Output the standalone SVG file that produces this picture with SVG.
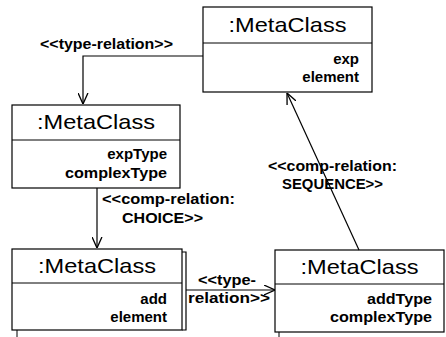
<svg xmlns="http://www.w3.org/2000/svg" width="446" height="337" viewBox="0 0 446 337">
  <style>
    .box { fill: #fff; stroke: #000; stroke-width: 1.2; }
    .sep { stroke: #000; stroke-width: 1; }
    .title { font-family: "Liberation Sans", Arial, sans-serif; font-size: 21px; fill: #000; text-anchor: middle; }
    .attr { font-family: "Liberation Sans", Arial, sans-serif; font-size: 15px; font-weight: bold; fill: #000; text-anchor: end; }
    .lbl { font-family: "Liberation Sans", Arial, sans-serif; font-size: 15px; font-weight: bold; fill: #000; }
    .edge { fill: none; stroke: #000; stroke-width: 1.2; }
  </style>
  <defs>
    <marker id="open" viewBox="0 0 10 10" refX="10" refY="5" markerUnits="userSpaceOnUse" markerWidth="11" markerHeight="11" orient="auto">
      <path d="M0,0.5 L10,5 L0,9.5" fill="none" stroke="#000" stroke-width="1.2"/>
    </marker>
  </defs>
  <rect width="446" height="337" fill="#fff"/>

  <!-- exp / element -->
  <g id="metaclass-exp">
    <rect class="box" x="203" y="7" width="169" height="85"/>
    <line class="sep" x1="203" y1="43" x2="372" y2="43"/>
    <text class="title" x="287.5" y="32" textLength="118" lengthAdjust="spacingAndGlyphs">:MetaClass</text>
    <text class="attr" x="359" y="64">exp</text>
    <text class="attr" x="359" y="82">element</text>
  </g>

  <!-- expType / complexType -->
  <g id="metaclass-exptype">
    <rect class="box" x="12" y="105" width="168" height="83"/>
    <line class="sep" x1="12" y1="140" x2="180" y2="140"/>
    <text class="title" x="96" y="129" textLength="118" lengthAdjust="spacingAndGlyphs">:MetaClass</text>
    <text class="attr" x="167" y="159">expType</text>
    <text class="attr" x="167" y="178" textLength="102" lengthAdjust="spacingAndGlyphs">complexType</text>
  </g>

  <!-- add / element -->
  <g id="metaclass-add">
    <polyline class="edge" points="182,252 186,252 186,330 182,330"/>
    <rect class="box" x="12" y="249" width="170" height="81"/>
    <line class="sep" x1="12" y1="283" x2="182" y2="283"/>
    <line class="sep" x1="17" y1="330" x2="17" y2="337"/>
    <text class="title" x="97" y="273" textLength="118" lengthAdjust="spacingAndGlyphs">:MetaClass</text>
    <text class="attr" x="167" y="304">add</text>
    <text class="attr" x="167" y="322">element</text>
  </g>

  <!-- addType / complexType -->
  <g id="metaclass-addtype">
    <rect class="box" x="275" y="250" width="169" height="82"/>
    <line class="sep" x1="275" y1="284" x2="444" y2="284"/>
    <line class="sep" x1="279" y1="332" x2="279" y2="337"/>
    <text class="title" x="359.5" y="274" textLength="118" lengthAdjust="spacingAndGlyphs">:MetaClass</text>
    <text class="attr" x="432" y="304" textLength="65" lengthAdjust="spacingAndGlyphs">addType</text>
    <text class="attr" x="432" y="322" textLength="102" lengthAdjust="spacingAndGlyphs">complexType</text>
  </g>

  <!-- relations -->
  <g id="connectors">
    <polyline class="edge" points="203,56 83,56 83,104" marker-end="url(#open)"/>
    <line class="edge" x1="97" y1="188" x2="97" y2="248" marker-end="url(#open)"/>
    <line class="edge" x1="359" y1="250" x2="287" y2="93" marker-end="url(#open)"/>
    <line class="edge" x1="186" y1="290" x2="275" y2="290" marker-end="url(#open)"/>
  </g>

  <g id="connector-labels">
    <text class="lbl" x="40" y="49" textLength="133" lengthAdjust="spacingAndGlyphs">&lt;&lt;type-relation&gt;&gt;</text>
    <text class="lbl" x="102" y="204" textLength="133" lengthAdjust="spacingAndGlyphs">&lt;&lt;comp-relation:</text>
    <text class="lbl" x="122" y="223" textLength="81" lengthAdjust="spacingAndGlyphs">CHOICE&gt;&gt;</text>
    <text class="lbl" x="268" y="171" textLength="129" lengthAdjust="spacingAndGlyphs">&lt;&lt;comp-relation:</text>
    <text class="lbl" x="282" y="189" textLength="101" lengthAdjust="spacingAndGlyphs">SEQUENCE&gt;&gt;</text>
    <text class="lbl" x="198" y="285" textLength="58" lengthAdjust="spacingAndGlyphs">&lt;&lt;type-</text>
    <text class="lbl" x="188" y="303" textLength="82" lengthAdjust="spacingAndGlyphs">relation&gt;&gt;</text>
  </g>
</svg>
